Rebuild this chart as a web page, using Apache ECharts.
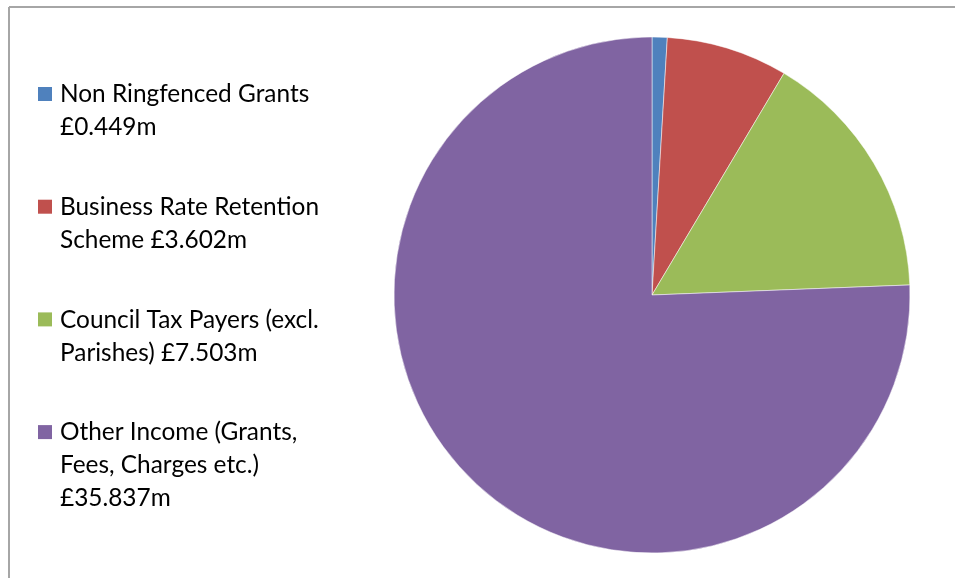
<!DOCTYPE html>
<html><head><meta charset="utf-8">
<script src="https://cdn.jsdelivr.net/npm/echarts@6/dist/echarts.min.js"></script>
<style>html,body{margin:0;padding:0;background:#fff}#c{width:955px;height:578px}</style>
</head><body><div id="c"></div>
<script>
const categories = ['Non Ringfenced Grants', 'Business Rate Retention Scheme', 'Council Tax Payers (excl. Parishes)', 'Other Income (Grants, Fees, Charges etc.)'];
const values = [0.449, 3.602, 7.503, 35.837];
const legendLines = [
  ['Non Ringfenced Grants', '£0.449m'],
  ['Business Rate Retention', 'Scheme £3.602m'],
  ['Council Tax Payers (excl.', 'Parishes) £7.503m'],
  ['Other Income (Grants,', 'Fees, Charges etc.)', '£35.837m']
];
const colors = ['#4F81BD', '#C0504D', '#9BBB59', '#8064A2'];

const chart = echarts.init(document.getElementById('c'));
const graphics = [
  {type:'line', shape:{x1:9,y1:7,x2:955,y2:7}, style:{stroke:'#a6a6a6', lineWidth:2}},
  {type:'line', shape:{x1:9,y1:7,x2:9,y2:578}, style:{stroke:'#a6a6a6', lineWidth:2}}
];
legendLines.forEach((lines, i) => {
  const top = 87 + i * 112.7;
  graphics.push({type:'rect', shape:{x:38, y:top, width:14, height:14}, style:{fill:colors[i]}});
  graphics.push({type:'text', x:60, y:top - 9, style:{text: lines.join('\n'), font:'24.4px Lato', lineHeight:33, fill:'#000'}});
});
chart.setOption({
  animation:false,
  color: colors,
  graphic: graphics,
  series:[{
    type:'pie',
    center:[652,295],
    radius:[0,258],
    startAngle:90,
    clockwise:true,
    label:{show:false},
    labelLine:{show:false},
    itemStyle:{borderColor:'#fff', borderWidth:0.5},
    data: categories.map((c,i)=>({name:c, value:values[i]}))
  }]
});
</script></body></html>
